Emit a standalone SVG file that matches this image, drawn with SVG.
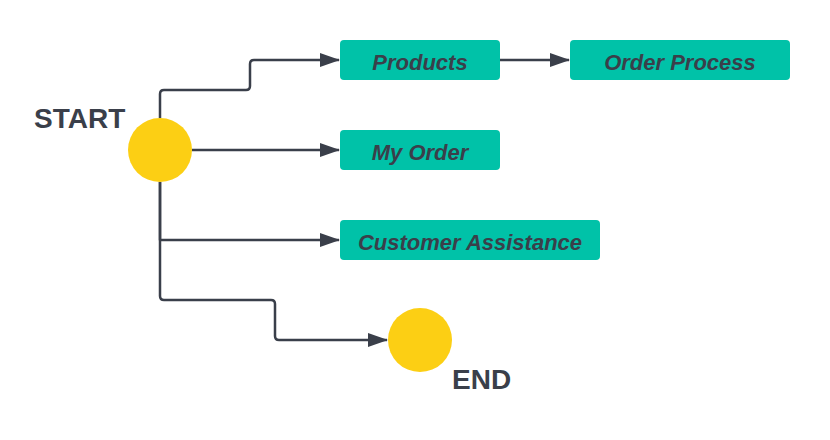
<svg xmlns="http://www.w3.org/2000/svg" width="830" height="440" viewBox="0 0 830 440">
<style>
.box{fill:#00c2a8;}
.circ{fill:#fccf14;}
.lbl{font-family:"Liberation Sans",Arial,sans-serif;font-weight:bold;font-style:italic;font-size:22px;fill:#3a3f4a;text-anchor:middle;}
.big{font-family:"Liberation Sans",Arial,sans-serif;font-weight:bold;font-size:28px;fill:#3a3f4a;}
.con{fill:none;stroke:#3a3f4a;stroke-width:2.5;stroke-linejoin:round;marker-end:url(#arr);}
</style>
<defs>
<marker id="arr" markerWidth="22" markerHeight="14" refX="19" refY="7" orient="auto" markerUnits="userSpaceOnUse">
<path d="M0,0 L20,7 L0,14 Z" fill="#3a3f4a"/>
</marker>
</defs>
<rect width="830" height="440" fill="#ffffff"/>
<g id="connectors">
<path class="con" d="M160,118 V94 Q160,90 164,90 H246 Q250,90 250,86 V64 Q250,60 254,60 H339"/>
<path class="con" d="M192,150 H339"/>
<path class="con" d="M160,182 V240 H339"/>
<path class="con" d="M160,182 V296 Q160,300 164,300 H271 Q275,300 275,304 V336 Q275,340 279,340 H387"/>
<path class="con" d="M500,60 H569"/>
</g>
<g id="start">
<circle class="circ" cx="160" cy="150" r="32"/>
<text class="big" x="34" y="128">START</text>
</g>
<g id="products">
<rect class="box" x="340" y="40" width="160" height="40" rx="4"/>
<text class="lbl" x="420" y="70">Products</text>
</g>
<g id="order-process">
<rect class="box" x="570" y="40" width="220" height="40" rx="4"/>
<text class="lbl" x="680" y="70">Order Process</text>
</g>
<g id="my-order">
<rect class="box" x="340" y="130" width="160" height="40" rx="4"/>
<text class="lbl" x="420" y="160">My Order</text>
</g>
<g id="customer-assistance">
<rect class="box" x="340" y="220" width="260" height="40" rx="4"/>
<text class="lbl" x="470" y="250">Customer Assistance</text>
</g>
<g id="end">
<circle class="circ" cx="420" cy="340" r="32"/>
<text class="big" x="452" y="389">END</text>
</g>
</svg>
